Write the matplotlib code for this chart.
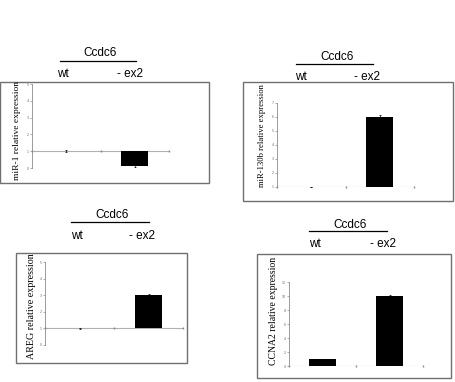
import numpy as np
import matplotlib as mpl
mpl.use('agg')
import matplotlib.pyplot as plt
from matplotlib.patches import Rectangle
from matplotlib.lines import Line2D

## data
groups = ['wt', '- ex2']
gene = 'Ccdc6'

mir1_vals = [1.0, 0.1]
mir1_err = [0.05, 0.05]

mir130b_vals = [1.0, 6.0]
mir130b_err = [0.02, 0.15]

areg_vals = [1.0, 3.0]
areg_err = [0.03, 0.08]

ccna2_vals = [1.0, 10.0]
ccna2_err = [0.05, 0.15]

W, H = 455, 382
fig = plt.figure(figsize=(W / 100, H / 100), dpi=100)
fig.patch.set_facecolor('white')

grey = '#8a8a8a'


def px_axes(l, t, r, b):
    return fig.add_axes([l / W, 1 - b / H, (r - l) / W, (b - t) / H])


def box(l, t, r, b):
    fig.patches.append(Rectangle((l / W, 1 - b / H), (r - l) / W, (b - t) / H,
                                 transform=fig.transFigure, fill=False,
                                 edgecolor='#707070', linewidth=1.0))


def header(cx, cy, lx0, lx1, ly, wx, ex, gy):
    fig.text(cx / W, 1 - cy / H, gene, ha='center', va='center',
             fontsize=8.5, family='Liberation Sans')
    fig.lines.append(Line2D([lx0 / W, lx1 / W], [1 - ly / H, 1 - ly / H],
                            transform=fig.transFigure, color='black', lw=0.9))
    fig.text(wx / W, 1 - gy / H, groups[0], ha='center', va='center',
             fontsize=8.5, family='Liberation Sans')
    fig.text(ex / W, 1 - gy / H, groups[1], ha='center', va='center',
             fontsize=8.5, family='Liberation Sans')


def panel(rect, vals, err, base, ylim, yticks, label, lab_xy, lab_size):
    ax = px_axes(*rect)
    x = np.arange(len(vals))
    heights = np.array(vals) - base
    ax.bar(x, heights, bottom=base, width=0.4, color='black', linewidth=0,
           zorder=3)
    ax.errorbar(x, vals, yerr=err, fmt='none', ecolor='black', elinewidth=0.5,
                capsize=1.0, capthick=0.5, zorder=4)
    ax.set_xlim(-0.5, len(vals) - 0.5)
    ax.set_ylim(*ylim)
    ax.set_yticks(yticks)
    ax.set_yticklabels([str(t) for t in yticks], fontsize=2.3, color='#666666')
    ax.tick_params(axis='y', length=1.5, width=0.5, color=grey, pad=1)
    ax.set_xticks([])
    for s in ['top', 'right', 'bottom']:
        ax.spines[s].set_visible(False)
    ax.spines['left'].set_color(grey)
    ax.spines['left'].set_linewidth(0.6)
    ax.axhline(base, color='#b0b0b0', lw=0.8, zorder=2)
    # category boundary ticks on the baseline
    bounds = np.arange(len(vals) + 1) - 0.5
    ax.plot(bounds, np.full(len(bounds), base), linestyle='none', marker='|',
            markersize=2, color=grey, clip_on=False)
    ax.patch.set_alpha(0)
    fig.text(lab_xy[0] / W, 1 - lab_xy[1] / H, label, rotation=90,
             ha='center', va='center', fontsize=lab_size,
             family='Liberation Serif')
    return ax


# top left: miR-1
box(0, 82, 209, 183)
header(100, 53, 60, 136, 61, 63, 130, 74)
panel((32, 84, 169, 168), mir1_vals, mir1_err, 1, (0, 5), [0, 1, 2, 3, 4, 5],
      'miR-1 relative expression', (17, 130), 6.8)

# top right: miR-130b
box(243, 82, 453, 201)
header(337, 57, 296, 373, 64, 301, 367, 77)
panel((277, 103, 414, 187), mir130b_vals, mir130b_err, 1, (1, 7),
      [1, 2, 3, 4, 5, 6, 7], 'miR-130b relative expression', (262, 136), 6.2)

# bottom left: AREG
box(16, 253, 187, 363)
header(112, 215, 71, 149, 222, 77, 142, 236)
panel((45, 262, 183, 345), areg_vals, areg_err, 1, (0, 5), [0, 1, 2, 3, 4, 5],
      'AREG relative expression', (32, 306), 7.2)

# bottom right: CCNA2
box(257, 254, 451, 378)
header(350, 225, 309, 387, 231, 315, 383, 244)
panel((289, 282, 423, 366), ccna2_vals, ccna2_err, 0, (0, 12),
      [0, 2, 4, 6, 8, 10, 12], 'CCNA2 relative expression', (273, 311), 7.0)

fig.savefig('out.png', dpi=100)
